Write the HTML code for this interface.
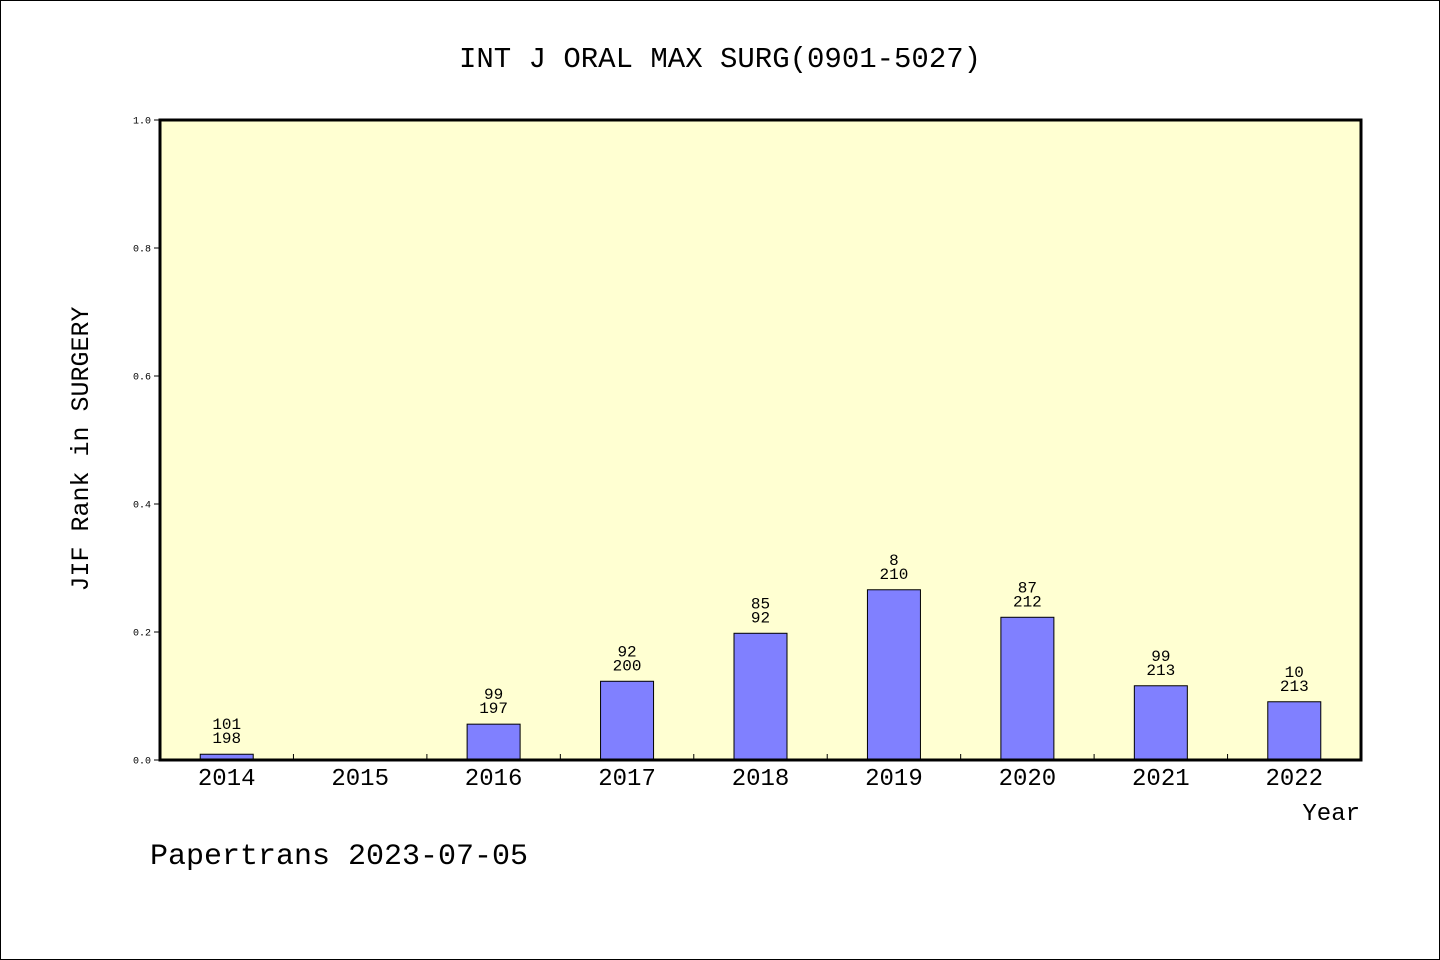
<!DOCTYPE html>
<html><head><meta charset="utf-8"><style>
html,body{margin:0;padding:0;background:#fff}
svg{display:block}
text{font-family:"Liberation Mono","DejaVu Sans Mono",monospace;fill:#000}
</style></head><body>
<svg id="chart" width="1440" height="960" xmlns="http://www.w3.org/2000/svg">
<rect x="0.5" y="0.5" width="1439" height="959" fill="#fff" stroke="#000"/>
<text x="720" y="67" text-anchor="middle" font-size="29">INT J ORAL MAX SURG(0901-5027)</text>
<rect x="160" y="120" width="1201" height="640" fill="#ffffd2"/>
<g id="ticks"></g>
<g id="bars"></g>
<rect x="160" y="120" width="1201" height="640" fill="none" stroke="#000" stroke-width="3"/>
<text transform="translate(88,449) rotate(-90)" text-anchor="middle" font-size="25">JIF Rank in SURGERY</text>
<text x="1360" y="820" text-anchor="end" font-size="24">Year</text>
<text x="150" y="864" font-size="30">Papertrans 2023-07-05</text>
</svg>
<script>
const years = ["2014","2015","2016","2017","2018","2019","2020","2021","2022"];
const values = [0.009, null, 0.056, 0.123, 0.198, 0.266, 0.223, 0.116, 0.091];
const topLabels = ["101","","99","92","85","8","87","99","10"];
const bottomLabels = ["198","","197","200","92","210","212","213","213"];
const yTicks = [0,0.2,0.4,0.6,0.8,1.0];
const yTickLabels = ["0.0","0.2","0.4","0.6","0.8","1.0"];

const NS="http://www.w3.org/2000/svg";
const X0=160,X1=1361,Y0=760,Y1=120;
const bw=(X1-X0)/years.length;
const y=v=>Y0-(v-0)/(1-0)*(Y0-Y1);
const xc=i=>X0+bw*(i+0.5);
function mk(tag,attrs,parent,txt){const e=document.createElementNS(NS,tag);for(const k in attrs)e.setAttribute(k,attrs[k]);if(txt!==undefined)e.textContent=txt;parent.appendChild(e);return e;}
const tg=document.getElementById('ticks'), bg=document.getElementById('bars');
yTicks.forEach((t,i)=>{
  const l=mk('line',{x1:X0-6,x2:X0,y1:y(t),y2:y(t),stroke:'#000','stroke-width':1},tg);
  
  
  const tx=mk('text',{x:X0-9,y:y(t)+3.5,'text-anchor':'end','font-size':10},tg,yTickLabels[i]);
  
  
});
years.forEach((yr,i)=>{
  if(i>0){
    const l=mk('line',{x1:X0+bw*i,x2:X0+bw*i,y1:Y0,y2:Y0-6,stroke:'#000','stroke-width':1},tg);
    
    
  }
  const tx=mk('text',{x:xc(i),y:Y0+25,'text-anchor':'middle','font-size':24},tg,yr);
  
  
  const v=values[i];
  if(v===null)return;
  const top=y(v);
  const r=mk('rect',{x:xc(i)-26.5,y:top,width:53,height:Y0-top,fill:'#8080ff',stroke:'#000','stroke-width':1},bg);
  
  
  const t1=mk('text',{x:xc(i),y:top-25,'text-anchor':'middle','font-size':16},bg,topLabels[i]);
  
  
  const t2=mk('text',{x:xc(i),y:top-11,'text-anchor':'middle','font-size':16},bg,bottomLabels[i]);
  
  
});
</script>
</body></html>
